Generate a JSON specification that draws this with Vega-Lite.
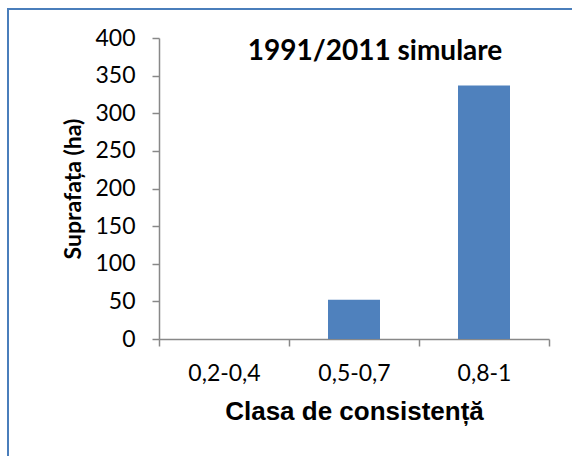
{
  "$schema": "https://vega.github.io/schema/vega-lite/v6.json",
  "width": 564,
  "height": 447,
  "autosize": "none",
  "padding": {"left": 8, "top": 9, "right": 0, "bottom": 0},
  "background": "white",
  "title": {
    "text": "1991/2011 simulare",
    "font": "Lato",
    "fontSize": 28,
    "fontWeight": "bold",
    "color": "#000000",
    "anchor": "middle",
    "dx": 85,
    "offset": -79,
    "baseline": "alphabetic"
  },
  "data": {
    "values": [
      {"clasa": "0,2-0,4", "suprafata": 0},
      {"clasa": "0,5-0,7", "suprafata": 52},
      {"clasa": "0,8-1", "suprafata": 337}
    ]
  },
  "mark": {"type": "bar", "color": "#4f81bd", "width": {"band": 0.4}},
  "encoding": {
    "x": {
      "field": "clasa",
      "type": "nominal",
      "sort": null,
      "scale": {"range": [151, 541], "paddingInner": 0, "paddingOuter": 0},
      "axis": {
        "title": "Clasa de consistență",
        "titleFont": "Liberation Sans",
        "titleFontSize": 26,
        "titleFontWeight": "bold",
        "titleColor": "#000000",
        "titlePadding": 13,
        "offset": -117,
        "tickBand": "extent",
        "labelAngle": 0,
        "labelFont": "Lato",
        "labelFontSize": 23,
        "labelColor": "#000000",
        "labelPadding": 16,
        "tickSize": 7,
        "tickColor": "#888888",
        "tickWidth": 1.5,
        "domainColor": "#888888",
        "domainWidth": 1.5
      }
    },
    "y": {
      "field": "suprafata",
      "type": "quantitative",
      "scale": {"domain": [0, 400], "range": [330, 29], "nice": false},
      "axis": {
        "title": "Suprafața (ha)",
        "titleFont": "Lato",
        "titleFontSize": 23,
        "titleFontWeight": "bold",
        "titleColor": "#000000",
        "titlePadding": 9,
        "offset": -151,
        "values": [0, 50, 100, 150, 200, 250, 300, 350, 400],
        "grid": false,
        "labelFont": "Lato",
        "labelFontSize": 23,
        "labelColor": "#000000",
        "labelPadding": 17,
        "tickSize": 7,
        "tickColor": "#888888",
        "tickWidth": 1.5,
        "domainColor": "#888888",
        "domainWidth": 1.5
      }
    }
  },
  "config": {"view": {"stroke": "#4a7ebb", "strokeWidth": 2, "strokeDash": [564, 1011, 447]}}
}
